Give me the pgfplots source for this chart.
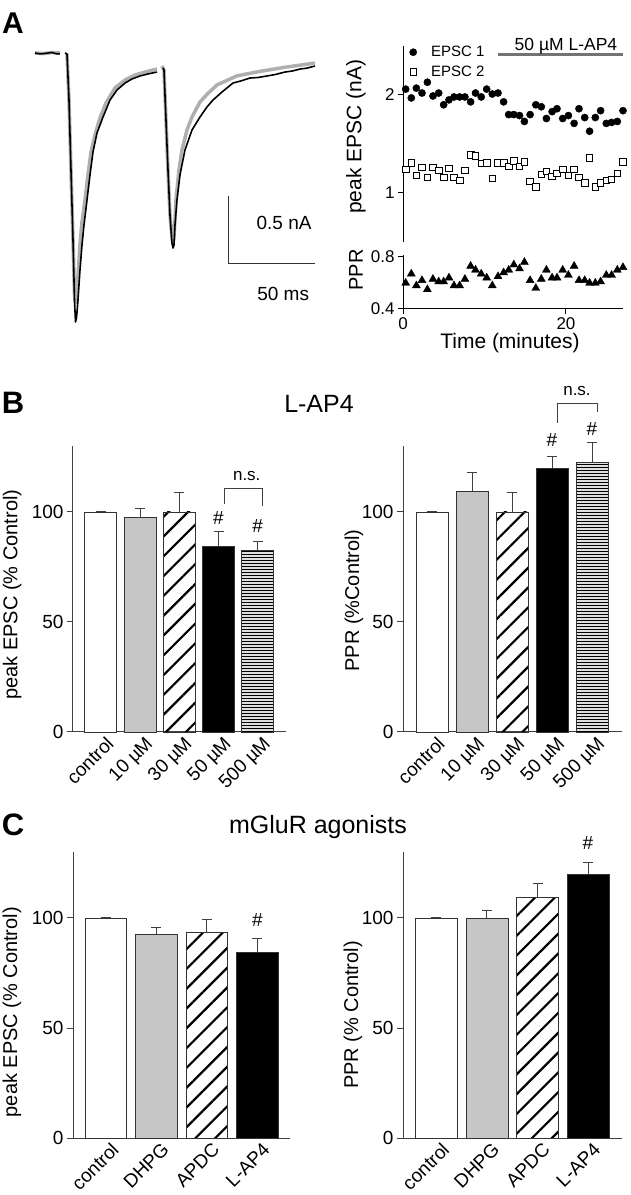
\documentclass[border=0pt]{standalone}
\usepackage{fontspec}
\setmainfont{Liberation Sans}
\usepackage{pgfplots}
\pgfplotsset{compat=1.18}
\usetikzlibrary{patterns.meta}
\definecolor{barGray}{HTML}{C6C6C6}
\definecolor{traceGray}{HTML}{AFAFAF}
\newcommand{\fs}[1]{\fontsize{#1}{#1}\selectfont}
\pgfdeclarepatternformonly{hthick}{\pgfqpoint{0pt}{0pt}}{\pgfqpoint{80pt}{3.4pt}}{\pgfqpoint{80pt}{3.4pt}}{%
  \pgfpathrectangle{\pgfqpoint{-1pt}{0.9pt}}{\pgfqpoint{82pt}{1.6pt}}%
  \pgfusepath{fill}%
}
\pgfplotsset{
  barbase/.style={
    scale only axis, anchor=south west, height=286pt,
    ymin=0, ymax=130, ytick={0,50,100},
    axis x line*=bottom, axis y line*=left,
    axis line style={draw=black!75, line width=1pt, -},
    x tick style={draw=none},
    y tick style={draw=black!75, line width=1pt},
    tick align=outside, major tick length=6pt,
    ybar, bar shift=0pt,
    every axis plot/.append style={draw=black!80, line width=0.9pt},
    tick label style={font=\fs{19}},
    label style={font=\fs{20}},
    /pgf/number format/assume math mode=true,
    xticklabel style={rotate=45, anchor=north east, inner sep=1pt, xshift=6pt},
    error bars/y dir=plus, error bars/y explicit,
    error bars/error bar style={draw=black!75, line width=1pt},
    error bars/error mark options={rotate=90, draw=black!75, line width=1pt, mark size=5pt},
    clip=false,
  },
  diag/.style={pattern={Lines[angle=45,distance=14pt,line width=2.2pt]}, pattern color=black},
  horiz/.style={pattern=hthick, pattern color=black},
  legmark/.style={legend image code/.code={\path[draw=none,fill=none] (0pt,0pt) rectangle (26pt,0.1pt); \draw[##1] plot coordinates {(10pt,0pt)};}},
}
\begin{document}
\begin{tikzpicture}
\useasboundingbox (0pt,0pt) rectangle (630pt,1195pt);

% ---------------- Panel labels and titles
\node[font=\bfseries\fs{30}] at (13pt,1172pt) {A};
\node[font=\bfseries\fs{31}] at (13pt,792pt) {B};
\node[font=\bfseries\fs{31}] at (13pt,370pt) {C};
\node[font=\fs{25}] at (319pt,791pt) {L-AP4};
\node[font=\fs{25}] at (318pt,368pt) {mGluR agonists};

% ---------------- Panel A: traces
\begin{axis}[scale only axis, anchor=south west, at={(35pt,856.4pt)},
  width=280pt, height=299.2pt, xmin=0, xmax=163, ymin=-2.1, ymax=0.1,
  hide axis, clip=false]
\addplot[traceGray, line width=3.5pt, line join=round] coordinates {
(0,0) (5,-0.004) (10,0.003) (14.55,0)};
\addplot[traceGray, line width=3.5pt, line join=round] coordinates {
(18.63,-0.007) (19.79,-0.346) (20.95,-0.860) (22.12,-1.375) (22.99,-1.779) (23.57,-1.838)
(24.16,-1.801) (25.03,-1.632) (26.19,-1.412) (27.36,-1.243) (29.10,-1.081) (30.85,-0.897)
(32.60,-0.728) (34.92,-0.603) (37.83,-0.478) (41.33,-0.368) (46.57,-0.257) (52.39,-0.199)
(58.21,-0.162) (64.03,-0.140) (71.01,-0.118)};
\addplot[traceGray, line width=3.5pt, line join=round] coordinates {
(73.92,-0.096) (75.09,-0.125) (76.25,-0.493) (77.42,-0.860) (78.58,-1.191) (79.74,-1.360)
(80.33,-1.390) (80.91,-1.360) (81.49,-1.228) (82.07,-1.081) (83.82,-0.860) (85.56,-0.713)
(88.48,-0.566) (91.39,-0.471) (96.04,-0.360) (100.70,-0.297) (105.94,-0.235) (117.58,-0.168)
(130.97,-0.135) (145.52,-0.105) (162.98,-0.074)};
\addplot[black, line width=1.6pt, line join=round] coordinates {
(0,0) (3,-0.007) (5.82,-0.003) (9.90,0.004) (12,-0.005) (14.55,-0.007)};
\addplot[black, line width=1.6pt, line join=round] coordinates {
(17.46,0) (18.63,-0.007) (19.79,-0.346) (20.95,-0.860) (22.12,-1.375) (22.99,-1.816)
(23.57,-1.978) (24.16,-1.949) (25.03,-1.816) (26.19,-1.596) (27.36,-1.412) (28.52,-1.265)
(30.27,-1.081) (32.01,-0.897) (33.76,-0.728) (36.09,-0.588) (39.58,-0.471) (43.66,-0.346)
(47.73,-0.272) (52.39,-0.221) (56.46,-0.191) (61.12,-0.169) (65.77,-0.154) (71.01,-0.140)};
\addplot[black, line width=1.6pt, line join=round] coordinates {
(74.51,-0.110) (75.09,-0.125) (76.25,-0.493) (77.42,-0.860) (78.58,-1.191) (79.74,-1.397)
(80.33,-1.434) (80.91,-1.412) (81.49,-1.265) (82.65,-1.081) (84.40,-0.897) (87.31,-0.713)
(91.39,-0.566) (96.04,-0.471) (100.12,-0.397) (103.61,-0.346) (108.85,-0.287) (115.25,-0.221)
(120,-0.205) (125.15,-0.184) (130,-0.180) (135.04,-0.169) (140,-0.158) (145.52,-0.140)
(150,-0.132) (154.25,-0.118) (158,-0.112) (162.98,-0.096)};
% scale bar
\draw[black!80, line width=0.9pt] (axis cs:112.9,-1.051) -- (axis cs:112.9,-1.551) -- (axis cs:162.9,-1.551);
\node[font=\fs{19}] at (axis cs:145,-1.25) {0.5 nA};
\node[font=\fs{19}] at (axis cs:144.5,-1.77) {50 ms};
\end{axis}

% ---------------- Panel A: peak EPSC vs time
\begin{axis}[scale only axis, anchor=south west, at={(403pt,953pt)},
  width=220pt, height=196pt, xmin=0, xmax=27, ymin=0.5, ymax=2.5,
  axis x line=none, axis y line*=left, axis line style={line width=1pt, -},
  ytick={1,2}, tick align=outside, major tick length=5pt,
  tick style={line width=1pt, black},
  tick label style={font=\fs{17}}, /pgf/number format/assume math mode=true,
  ylabel={peak EPSC (nA)}, ylabel style={font=\fs{21}, at={(axis description cs:-0.2136,0.536)}, anchor=center},
  legend style={at={(axis cs:0,2.52)}, anchor=north west, draw=none, fill=none,
    inner sep=0pt, row sep=4pt, font=\fs{15}, cells={anchor=west}},
  clip=false]
\addplot[only marks, mark=*, mark size=3.6pt, black, legmark] table {
0.33 2.06
1.02 1.97
1.64 2.07
2.33 2.02
2.99 2.13
3.68 1.99
4.38 2.02
4.99 1.90
5.64 1.95
6.26 1.98
6.95 1.98
7.60 1.98
8.30 1.93
8.90 2.02
9.60 1.98
10.27 2.06
10.96 2.01
11.66 2.02
12.35 1.93
12.97 1.80
13.60 1.80
14.30 1.79
14.90 1.73
15.60 1.80
16.30 1.90
16.97 1.88
17.60 1.76
18.30 1.83
18.90 1.86
19.60 1.76
20.30 1.79
21.00 1.71
21.60 1.86
22.30 1.77
22.90 1.63
23.60 1.77
24.25 1.84
24.95 1.71
25.60 1.72
26.30 1.73
27.00 1.84
};
\addlegendentry{EPSC 1}
\addplot[only marks, mark=square*, mark size=3.3pt, black, mark options={fill=white, line width=0.8pt}, legmark] table {
0.33 1.24
1.02 1.31
1.64 1.18
2.33 1.26
2.99 1.16
3.68 1.26
4.38 1.23
4.99 1.16
5.64 1.25
6.26 1.16
6.95 1.13
7.60 1.23
8.30 1.39
8.90 1.38
9.60 1.30
10.27 1.31
10.96 1.15
11.66 1.31
12.35 1.31
12.97 1.27
13.60 1.33
14.30 1.27
14.90 1.32
15.60 1.12
16.30 1.06
16.97 1.19
17.60 1.22
18.30 1.17
18.90 1.20
19.60 1.24
20.30 1.18
21.00 1.24
21.60 1.16
22.30 1.10
22.90 1.36
23.60 1.06
24.25 1.10
24.95 1.13
25.60 1.14
26.30 1.20
27.00 1.32
};
\addlegendentry{EPSC 2}
\draw[black!55, line width=3pt] (axis cs:11.65,2.41) -- (axis cs:27,2.41);
\node[font=\fs{17.5}, anchor=base] at (axis cs:20,2.45) {50 µM L-AP4};
\end{axis}

% ---------------- Panel A: PPR vs time
\begin{axis}[scale only axis, anchor=south west, at={(403pt,886pt)},
  width=220pt, height=54pt, xmin=0, xmax=27, ymin=0.4, ymax=0.815,
  axis x line*=bottom, axis y line*=left, axis line style={line width=1pt, -},
  ytick={0.4,0.8}, xtick={0,20}, tick align=outside, major tick length=5pt,
  tick style={line width=1pt, black},
  yticklabel style={/pgf/number format/.cd, fixed, fixed zerofill, precision=1},
  tick label style={font=\fs{17}}, /pgf/number format/assume math mode=true,
  ylabel={PPR}, ylabel style={font=\fs{20}, at={(axis description cs:-0.2136,0.72)}, anchor=center},
  xlabel={Time (minutes)}, xlabel style={font=\fs{21}, at={(axis description cs:0.486,-0.63)}, anchor=center},
  clip=false]
\addplot[only marks, mark=triangle*, mark size=4.6pt, black] table {
0.33 0.60
1.02 0.67
1.64 0.58
2.33 0.62
2.99 0.55
3.68 0.63
4.38 0.61
4.99 0.61
5.64 0.64
6.26 0.58
6.95 0.58
7.60 0.63
8.30 0.73
8.90 0.70
9.60 0.67
10.27 0.64
10.96 0.58
11.66 0.65
12.35 0.68
12.97 0.70
13.60 0.74
14.30 0.71
14.90 0.76
15.60 0.62
16.30 0.56
16.97 0.63
17.60 0.70
18.30 0.64
18.90 0.64
19.60 0.70
20.30 0.66
21.00 0.73
21.60 0.62
22.30 0.62
22.90 0.60
23.60 0.60
24.25 0.61
24.95 0.66
25.60 0.66
26.30 0.70
27.00 0.72
};
\end{axis}

% ---------------- Panel B left
\begin{axis}[barbase, at={(73pt,463pt)}, width=213pt, xmin=-0.71, xmax=4.72, bar width=0.815,
  xtick={0,1,2,3,4}, xticklabels={control,10 µM,30 µM,50 µM,500 µM},
  ylabel={peak EPSC (\% Control)}, ylabel style={at={(axis description cs:-0.286,0.48)}, anchor=center}]
\addplot[fill=white] coordinates {(0,100) +- (0,0.4)};
\addplot[fill=barGray] coordinates {(1,97.7) +- (0,3.7)};
\addplot[diag] coordinates {(2,100) +- (0,9)};
\addplot[fill=black] coordinates {(3,84.5) +- (0,6.5)};
\addplot[horiz] coordinates {(4,82.3) +- (0,4.1)};
\node[font=\fs{19}] at (axis cs:3,97.3) {\#};
\node[font=\fs{19}] at (axis cs:4,93.6) {\#};
\draw[black!75, line width=1pt] (axis cs:3.16,103.6) -- (axis cs:3.16,110.9) -- (axis cs:4.13,110.9) -- (axis cs:4.13,102.7);
\node[font=\fs{17}] at (axis cs:3.72,116.5) {n.s.};
\end{axis}

% ---------------- Panel B right
\begin{axis}[barbase, at={(403pt,463pt)}, width=219pt, xmin=-0.725, xmax=4.75, bar width=0.8,
  xtick={0,1,2,3,4}, xticklabels={control,10 µM,30 µM,50 µM,500 µM},
  ylabel={PPR (\%Control)}, ylabel style={at={(axis description cs:-0.224,0.46)}, anchor=center}]
\addplot[fill=white] coordinates {(0,100) +- (0,0.4)};
\addplot[fill=barGray] coordinates {(1,109.5) +- (0,8.5)};
\addplot[diag] coordinates {(2,100) +- (0,9)};
\addplot[fill=black] coordinates {(3,120) +- (0,5)};
\addplot[horiz] coordinates {(4,122.3) +- (0,9.5)};
\node[font=\fs{19}] at (axis cs:3,132.7) {\#};
\node[font=\fs{19}] at (axis cs:4,137.7) {\#};
\draw[black!75, line width=1pt] (axis cs:3.125,140.5) -- (axis cs:3.125,149.5) -- (axis cs:4.125,149.5) -- (axis cs:4.125,145.5);
\node[font=\fs{17}] at (axis cs:3.625,155) {n.s.};
\end{axis}

% ---------------- Panel C left
\begin{axis}[barbase, at={(73pt,57pt)}, width=217pt, xmin=-0.653, xmax=3.644, bar width=0.83,
  xtick={0,1,2,3}, xticklabels={control,DHPG,APDC,L-AP4},
  ylabel={peak EPSC (\% Control)}, ylabel style={at={(axis description cs:-0.281,0.44)}, anchor=center}]
\addplot[fill=white] coordinates {(0,100) +- (0,0.4)};
\addplot[fill=barGray] coordinates {(1,92.7) +- (0,3.2)};
\addplot[diag] coordinates {(2,93.6) +- (0,5.5)};
\addplot[fill=black] coordinates {(3,84.5) +- (0,6.4)};
\node[font=\fs{19}] at (axis cs:3,99.1) {\#};
\end{axis}

% ---------------- Panel C right
\begin{axis}[barbase, at={(403pt,57pt)}, width=219pt, xmin=-0.663, xmax=3.673, bar width=0.83,
  xtick={0,1,2,3}, xticklabels={control,DHPG,APDC,L-AP4},
  ylabel={PPR (\% Control)}, ylabel style={at={(axis description cs:-0.228,0.43)}, anchor=center}]
\addplot[fill=white] coordinates {(0,100) +- (0,0.4)};
\addplot[fill=barGray] coordinates {(1,100) +- (0,3.2)};
\addplot[diag] coordinates {(2,109.5) +- (0,6)};
\addplot[fill=black] coordinates {(3,120) +- (0,5)};
\node[font=\fs{19}] at (axis cs:3,134) {\#};
\end{axis}
\end{tikzpicture}
\end{document}
